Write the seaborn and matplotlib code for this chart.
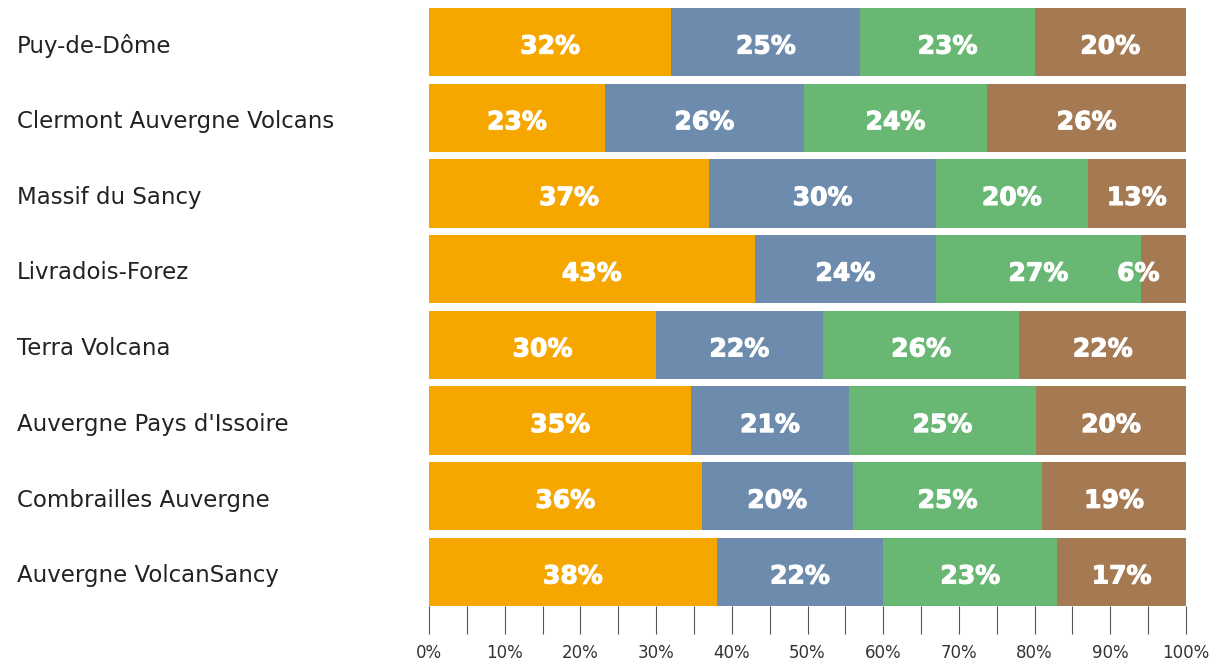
import matplotlib
matplotlib.use("Agg")
import matplotlib.pyplot as plt
import matplotlib.transforms as mtransforms
import matplotlib.patheffects as pe
from matplotlib.ticker import MultipleLocator, FuncFormatter
import numpy as np
import pandas as pd
import seaborn as sns

# Data (labels shown in %)
territories = [
    "Puy-de-Dôme",
    "Clermont Auvergne Volcans",
    "Massif du Sancy",
    "Livradois-Forez",
    "Terra Volcana",
    "Auvergne Pays d'Issoire",
    "Combrailles Auvergne",
    "Auvergne VolcanSancy",
]
part_1 = [32, 23, 37, 43, 30, 35, 36, 38]
part_2 = [25, 26, 30, 24, 22, 21, 20, 22]
part_3 = [23, 24, 20, 27, 26, 25, 25, 23]
part_4 = [20, 26, 13, 6, 22, 20, 19, 17]

colors = ["#F5A700", "#6D8BAC", "#68B874", "#A57A53"]

sns.set_theme(style="white")
plt.rcParams["font.family"] = ["DejaVu Sans"]

df = pd.DataFrame({"territory": territories, "p1": part_1, "p2": part_2,
                   "p3": part_3, "p4": part_4})
parts = ["p1", "p2", "p3", "p4"]
totals = df[parts].sum(axis=1)
shares = df[parts].div(totals, axis=0) * 100
cums = shares.cumsum(axis=1)

fig = plt.figure(figsize=(12.11, 6.64), dpi=100)
ax = fig.add_axes([429 / 1211, 1 - 606 / 664, 757 / 1211, 605.6 / 664])

# stacked bars: draw cumulative totals from the right-most segment down
for i in range(len(parts) - 1, -1, -1):
    plot_df = pd.DataFrame({"territory": territories, "value": cums[parts[i]].values})
    sns.barplot(data=plot_df, y="territory", x="value", color=colors[i],
                saturation=1, width=0.9, orient="h", ax=ax, linewidth=0)

# value labels
bold = [pe.withStroke(linewidth=0.8, foreground="white")]
for row in range(len(territories)):
    left = 0.0
    for i, p in enumerate(parts):
        w = shares.loc[row, p]
        label = f"{df.loc[row, p]}%"
        if w < 8:
            x, ha = left + w - 3.5, "right"
        else:
            x, ha = left + w / 2, "center"
        ax.text(x, row + 0.06, label, ha=ha, va="center", color="white",
                fontsize=18, fontweight="bold", path_effects=bold)
        left += w

# category labels on the far left
trans = mtransforms.blended_transform_factory(fig.transFigure, ax.transData)
for row, name in enumerate(territories):
    ax.text(17 / 1211, row + 0.05, name, transform=trans, ha="left", va="center",
            fontsize=16.5, color="#222222")

ax.set_xlim(0, 100)
ax.set_ylim(7.45, -0.55)
ax.set_yticks([])
ax.set_ylabel("")
ax.set_xlabel("")
ax.xaxis.set_major_locator(MultipleLocator(10))
ax.xaxis.set_minor_locator(MultipleLocator(5))
ax.xaxis.set_major_formatter(FuncFormatter(lambda v, pos: f"{v:.0f}%"))
ax.tick_params(axis="x", which="both", bottom=True, length=20, width=0.8,
               color="#555555", direction="out")
ax.tick_params(axis="x", which="major", labelsize=12, labelcolor="#333333", pad=7)
for s in ax.spines.values():
    s.set_visible(False)

fig.savefig("out.png", dpi=100)
